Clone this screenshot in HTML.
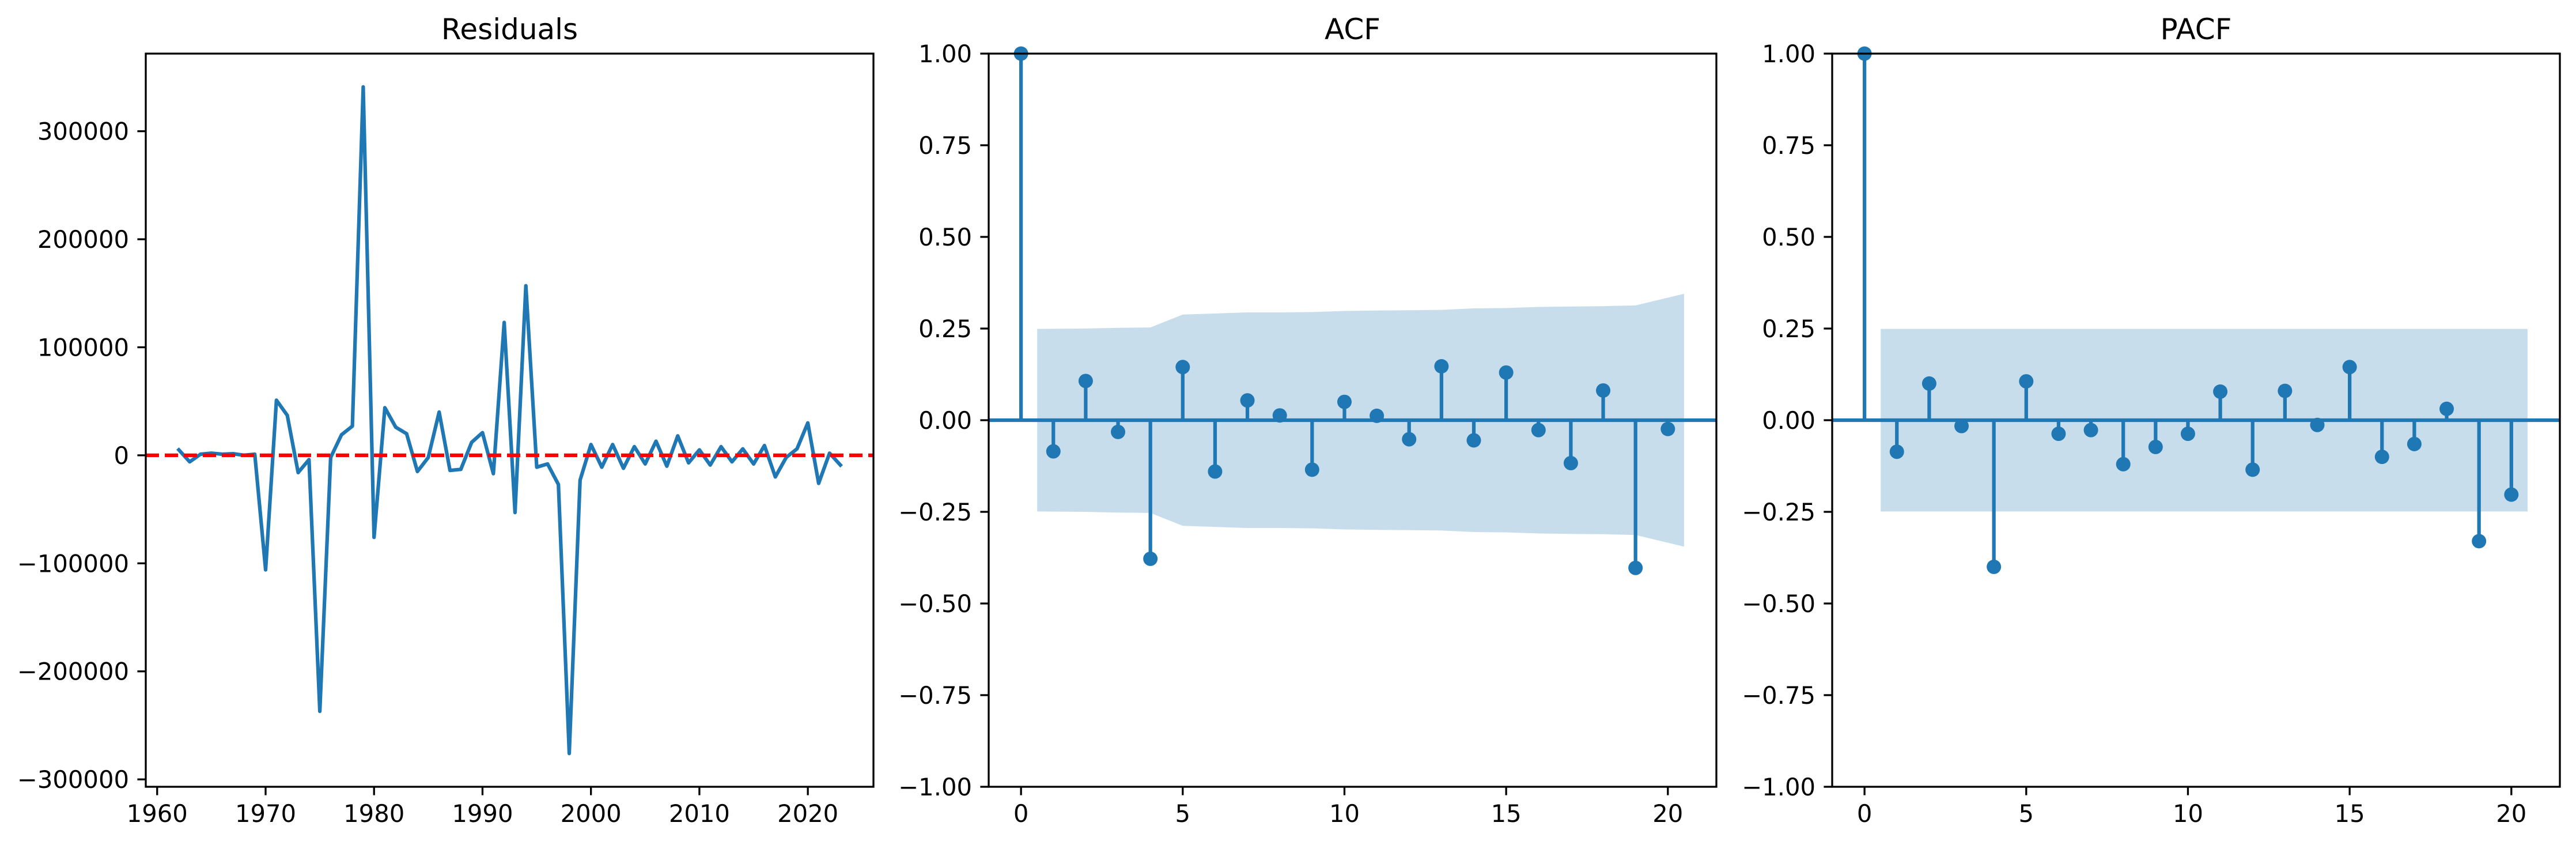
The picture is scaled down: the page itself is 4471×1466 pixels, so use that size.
<!DOCTYPE html>
<html><head><meta charset="utf-8">
<style>
html,body{margin:0;padding:0;background:#fff;}
svg{display:block;font-family:"DejaVu Sans","Liberation Sans",sans-serif;}
</style></head>
<body>
<svg id="fig" width="4471" height="1466" viewBox="0 0 4471 1466" xmlns="http://www.w3.org/2000/svg"></svg>
<script>
// ---- data ----
const years = [];
for (let y = 1962; y <= 2023; y++) years.push(y);
const residuals = [5,-6,1,2,1,1.5,0,1,-106,51,37,-16,-4,-237,-2,19,27,341,-76,44,26,20,-15,-2,40,-14,-13,12,21,-17,123,-53,157,-11,-8,-27,-276,-23,10,-11,10,-12,8,-8,13,-10,18,-7,5,-9,8,-6,6,-8,9,-20,-2,6,30,-26,2,-9].map(v=>v*1000);
const resXTicks = [1960,1970,1980,1990,2000,2010,2020];
const resYTicks = [-300000,-200000,-100000,0,100000,200000,300000];
const acfValues = [1,-0.085,0.107,-0.032,-0.378,0.145,-0.14,0.054,0.013,-0.135,0.05,0.012,-0.052,0.147,-0.055,0.13,-0.027,-0.117,0.081,-0.403,-0.024];
const acfBand = [0.249,0.25,0.252,0.253,0.288,0.291,0.294,0.294,0.295,0.298,0.299,0.3,0.301,0.305,0.306,0.309,0.31,0.311,0.313,0.345];
const pacfValues = [1,-0.086,0.1,-0.016,-0.4,0.106,-0.037,-0.027,-0.12,-0.073,-0.037,0.078,-0.135,0.08,-0.013,0.145,-0.1,-0.065,0.031,-0.33,-0.203];
const pacfBand = [0.249,0.249,0.249,0.249,0.249,0.249,0.249,0.249,0.249,0.249,0.249,0.249,0.249,0.249,0.249,0.249,0.249,0.249,0.249,0.249];
const corrYTicks = [-1,-0.75,-0.5,-0.25,0,0.25,0.5,0.75,1];
const corrYLabels = ["\u22121.00","\u22120.75","\u22120.50","\u22120.25","0.00","0.25","0.50","0.75","1.00"];
const lagTicks = [0,5,10,15,20];

const NS = "http://www.w3.org/2000/svg";
const svg = document.getElementById('fig');
const BLUE = "#1f77b4";
function el(tag, attrs, parent){
  const e = document.createElementNS(NS, tag);
  for (const k in attrs) e.setAttribute(k, attrs[k]);
  (parent||svg).appendChild(e);
  return e;
}
function fmt(v){ return v<0 ? "\u2212"+Math.abs(v) : String(v); }

const TOP=93, BOT=1365, W=1263;
function makePanel(left, title, xd, yd, name){
  const g = el('g', {});
  
  
  const sx = v => left + (v - xd[0])/(xd[1]-xd[0])*W;
  const sy = v => BOT - (v - yd[0])/(yd[1]-yd[0])*(BOT-TOP);
  const t = el('text', {x:left+W/2, y:68, 'font-size':50, 'text-anchor':'middle', fill:'#000'}, g);
  t.textContent = title;
  
  
  return {g, sx, sy, left};
}
function frame(p, name){
  const r = el('rect', {x:p.left, y:TOP, width:W, height:BOT-TOP, fill:'none', stroke:'#000', 'stroke-width':3.3}, p.g);
  
  
}
function yTicks(p, vals, labels, name){
  vals.forEach((v,i)=>{
    const y = p.sy(v);
    el('line', {x1:p.left-14.6, x2:p.left, y1:y, y2:y, stroke:'#000', 'stroke-width':3.3}, p.g);
    const t = el('text', {x:p.left-29, y:y+15, 'font-size':41.7, 'text-anchor':'end', fill:'#000'}, p.g);
    t.textContent = labels[i];
    
    
  });
}
function xTicks(p, vals, name){
  vals.forEach(v=>{
    const x = p.sx(v);
    el('line', {x1:x, x2:x, y1:BOT, y2:BOT+14.6, stroke:'#000', 'stroke-width':3.3}, p.g);
    const t = el('text', {x:x, y:BOT+61, 'font-size':41.7, 'text-anchor':'middle', fill:'#000'}, p.g);
    t.textContent = String(v);
    
    
  });
}

// ---- Residuals ----
(function(){
  const x0 = years[0], x1 = years[years.length-1];
  const mx = (x1-x0)*0.05;
  const ymin = Math.min(...residuals), ymax = Math.max(...residuals);
  const my = (ymax-ymin)*0.05;
  const p = makePanel(253, 'Residuals', [x0-mx, x1+mx], [ymin-my, ymax+my], 'residuals-panel');
  const pts = years.map((y,i)=>p.sx(y).toFixed(1)+','+p.sy(residuals[i]).toFixed(1)).join(' ');
  const cp = el('clipPath', {id:'c1'}, p.g);
  el('rect', {x:p.left, y:TOP, width:W, height:BOT-TOP}, cp);
  const line = el('polyline', {points:pts, fill:'none', stroke:BLUE, 'stroke-width':6.25, 'stroke-linejoin':'round', 'stroke-linecap':'square'}, p.g);
  
  
  const zl = el('line', {x1:p.left, x2:p.left+W, y1:p.sy(0), y2:p.sy(0), stroke:'#ff0000', 'stroke-width':6.25, 'stroke-dasharray':'23 10'}, p.g);
  
  
  frame(p, 'residuals');
  yTicks(p, resYTicks, resYTicks.map(fmt), 'residuals');
  xTicks(p, resXTicks, 'residuals');
})();

// ---- correlation panels ----
function corrPanel(left, title, vals, band, name){
  const p = makePanel(left, title, [-1, 21.5], [-1, 1], name);
  // band
  const n = band.length;
  const xs = band.map((b,i)=> i+1);
  xs[0] = 0.5; xs[n-1] = n + 0.5;
  let d = 'M';
  d += xs.map((x,i)=>p.sx(x).toFixed(1)+','+p.sy(band[i]).toFixed(1)).join(' L');
  for (let i=n-1;i>=0;i--) d += ' L'+p.sx(xs[i]).toFixed(1)+','+p.sy(-band[i]).toFixed(1);
  d += ' Z';
  const b = el('path', {d:d, fill:BLUE, 'fill-opacity':0.25, stroke:'none'}, p.g);
  
  
  const zl = el('line', {x1:p.left, x2:p.left+W, y1:p.sy(0), y2:p.sy(0), stroke:BLUE, 'stroke-width':6.25}, p.g);
  
  
  vals.forEach((v,i)=>{
    const x = p.sx(i);
    const s = el('line', {x1:x, x2:x, y1:p.sy(0), y2:p.sy(v), stroke:BLUE, 'stroke-width':6.25}, p.g);
    
    
    const c = el('circle', {cx:x, cy:p.sy(v), r:12.5, fill:BLUE}, p.g);
    
    
  });
  frame(p, name);
  yTicks(p, corrYTicks, corrYLabels, name);
  xTicks(p, lagTicks, name);
}
corrPanel(1716, 'ACF', acfValues, acfBand, 'acf');
corrPanel(3180, 'PACF', pacfValues, pacfBand, 'pacf');
</script>
</body></html>
